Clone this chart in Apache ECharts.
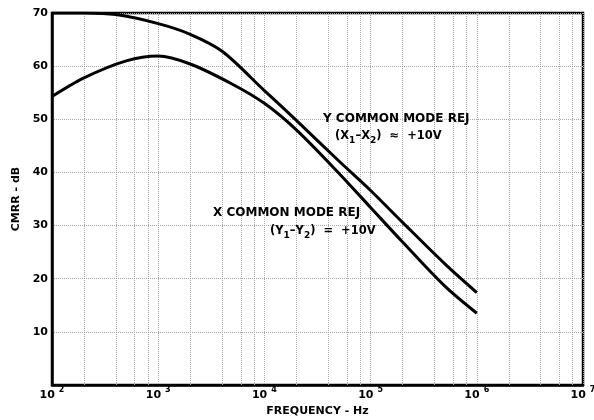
<!DOCTYPE html>
<html>
<head>
<meta charset="utf-8">
<script src="https://cdn.jsdelivr.net/npm/echarts@6/dist/echarts.min.js"></script>
<style>
html,body{margin:0;padding:0;background:#fff;}
#c{width:594px;height:420px;}
</style>
</head>
<body>
<div id="c"></div>
<script>
// Data
var yRejFreq = [100, 200, 400, 1000, 2000, 4000, 10000, 20000, 50000, 100000, 200000, 500000, 1000000];
var yRejVals = [70, 70, 69.7, 68, 66.0, 62.8, 55.4, 49.8, 42.2, 36.6, 30.6, 22.8, 17.4];
var xRejFreq = [100, 200, 500, 1000, 2000, 5000, 10000, 20000, 50000, 100000, 200000, 500000, 1000000];
var xRejVals = [54.3, 57.8, 61.0, 61.9, 60.4, 56.6, 53.0, 48.0, 39.9, 33.4, 26.9, 18.6, 13.5];
var gridFreqs = [200,400,600,800, 2000,4000,6000,8000, 20000,40000,60000,80000,
                 200000,400000,600000,800000, 2000000,4000000,6000000,8000000];
var yTicks = [10, 20, 30, 40, 50, 60, 70];

function pairs(f, v){ return f.map(function(x,i){ return [x, v[i]]; }); }

var FONT = 'DejaVu Sans';
var chart = echarts.init(document.getElementById('c'), null, {renderer:'canvas'});
var gridLine = {color:'#a8a8a8', type:'dotted', width:1};
var subRich = {
  t:{fontFamily:FONT, fontWeight:'bold', fontSize:11.5, fill:'#000', lineHeight:15, verticalAlign:'top'},
  u:{fontFamily:FONT, fontWeight:'bold', fontSize:9, fill:'#000', lineHeight:10, verticalAlign:'bottom'}
};

chart.setOption({
  animation:false,
  backgroundColor:'#fff',
  grid:{left:52, right:11, top:13, bottom:35, show:true, borderColor:'#000', borderWidth:2.5,
        containLabel:false, outerBoundsMode:'none'},
  xAxis:{
    type:'log', logBase:10, min:100, max:10000000,
    name:'FREQUENCY - Hz', nameLocation:'middle', nameGap:19,
    nameTextStyle:{fontFamily:FONT, fontWeight:'bold', fontSize:11, color:'#000'},
    axisLine:{show:true, lineStyle:{color:'#000', width:2.5}},
    axisTick:{show:false},
    splitLine:{show:true, lineStyle:gridLine},
    axisLabel:{
      margin:1,
      formatter:function(v){ var e=Math.round(Math.log10(v)); return '{b|10}{s|'+e+'}'; },
      rich:{
        b:{fontFamily:FONT, fontWeight:'bold', fontSize:11, color:'#000', lineHeight:15, verticalAlign:'bottom'},
        s:{fontFamily:FONT, fontWeight:'bold', fontSize:8, color:'#000', lineHeight:10, verticalAlign:'top', padding:[0,0,0,4]}
      }
    }
  },
  yAxis:{
    type:'value', min:0, max:70, interval:10,
    name:'CMRR - dB', nameLocation:'middle', nameGap:29, nameRotate:90,
    nameTextStyle:{fontFamily:FONT, fontWeight:'bold', fontSize:11, color:'#000'},
    axisLine:{show:true, lineStyle:{color:'#000', width:2.5}},
    axisTick:{show:false},
    splitLine:{show:true, lineStyle:gridLine},
    axisLabel:{
      margin:4, fontFamily:FONT, fontWeight:'bold', fontSize:11, color:'#000',
      formatter:function(v){ return yTicks.indexOf(v) >= 0 ? String(v) : ''; }
    }
  },
  series:[
    {
      type:'line', name:'Y COMMON MODE REJ', data:pairs(yRejFreq, yRejVals),
      smooth:0.3, showSymbol:false, symbol:'none',
      lineStyle:{color:'#000', width:3}, z:5,
      markLine:{
        silent:true, symbol:'none', label:{show:false},
        lineStyle:gridLine, animation:false,
        data:gridFreqs.map(function(f){ return {xAxis:f}; })
      }
    },
    {
      type:'line', name:'X COMMON MODE REJ', data:pairs(xRejFreq, xRejVals),
      smooth:0.3, showSymbol:false, symbol:'none',
      lineStyle:{color:'#000', width:3}, z:5
    }
  ],
  graphic:[
    {type:'text', left:323, top:113, z:10, style:{
      text:'Y COMMON MODE REJ', font:'bold 12px "DejaVu Sans"', fill:'#000'}},
    {type:'text', left:335, top:130, z:10, style:{
      text:'{t|(X}{u|1}{t|–X}{u|2}{t|)  ≈  +10V}', fill:'#000', rich:subRich}},
    {type:'text', left:213, top:207, z:10, style:{
      text:'X COMMON MODE REJ', font:'bold 12px "DejaVu Sans"', fill:'#000'}},
    {type:'text', left:270, top:225, z:10, style:{
      text:'{t|(Y}{u|1}{t|–Y}{u|2}{t|)  =  +10V}', fill:'#000', rich:subRich}}
  ]
});
</script>
</body>
</html>
